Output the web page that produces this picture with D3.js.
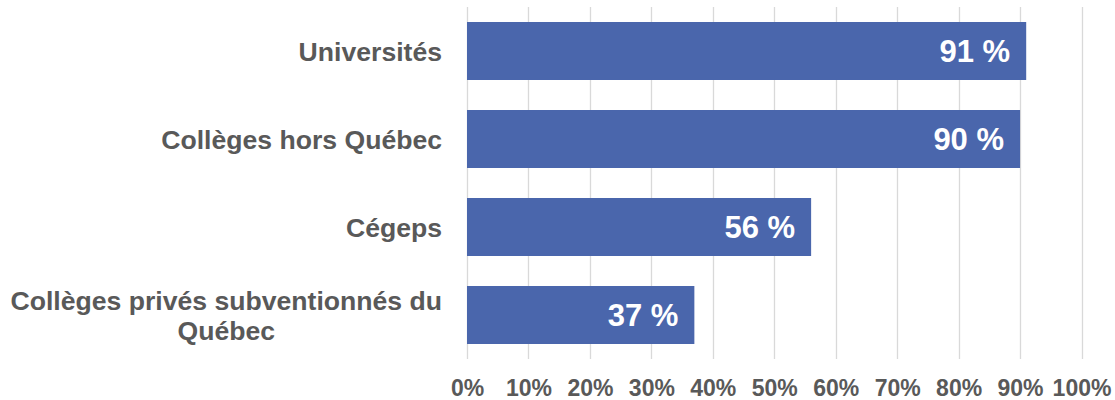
<!DOCTYPE html>
<html>
<head>
<meta charset="utf-8">
<script src="https://cdn.jsdelivr.net/npm/d3@7"></script>
<style>
  html, body { margin: 0; padding: 0; background: #fff; }
  svg { display: block; }
  text { font-family: Arial, "Liberation Sans", sans-serif; font-weight: bold; }
</style>
</head>
<body>
<svg id="chart" width="1115" height="400"></svg>
<script>
const categories = ["Universités", "Collèges hors Québec", "Cégeps", "Collèges privés subventionnés du Québec"];
const values = [0.91, 0.90, 0.56, 0.37];
const valueLabels = ["91 %", "90 %", "56 %", "37 %"];
const tickValues = [0, 0.1, 0.2, 0.3, 0.4, 0.5, 0.6, 0.7, 0.8, 0.9, 1.0];
const tickLabels = ["0%", "10%", "20%", "30%", "40%", "50%", "60%", "70%", "80%", "90%", "100%"];

const svg = d3.select("#chart");
const barColor = "#4A66AC";
const textColor = "#595959";
const gridColor = "#D9D9D9";

const x = d3.scaleLinear().domain([0, 1]).range([467, 1081.5]);
const y = d3.scaleBand().domain(categories).range([7, 359]).paddingInner(0.341).paddingOuter(0.1705);

// gridlines
svg.append("g").selectAll("line").data(tickValues).join("line")
  .attr("x1", d => Math.round(x(d)) + 0.5).attr("x2", d => Math.round(x(d)) + 0.5)
  .attr("y1", 7).attr("y2", 359)
  .attr("stroke", gridColor).attr("stroke-width", 1.3);

// x tick labels via axis
const xAxis = d3.axisBottom(x).tickValues(tickValues).tickFormat((d, i) => tickLabels[i]).tickSize(0).tickPadding(0);
const gx = svg.append("g").attr("transform", "translate(0,0)").call(xAxis);
gx.select(".domain").remove();
gx.selectAll("text")
  .attr("y", 396).attr("dy", null)
  .attr("fill", textColor).style("font-size", "23px")
  .style("font-family", "Arial, 'Liberation Sans', sans-serif").style("font-weight", "bold");

// bars
svg.append("g").selectAll("rect").data(categories).join("rect")
  .attr("x", x(0)).attr("y", d => y(d))
  .attr("width", (d, i) => x(values[i]) - x(0))
  .attr("height", y.bandwidth())
  .attr("fill", barColor);

// value labels
svg.append("g").selectAll("text").data(categories).join("text")
  .attr("x", (d, i) => x(values[i]) - 16)
  .attr("y", d => y(d) + y.bandwidth() / 2 + 11)
  .attr("text-anchor", "end")
  .attr("fill", "#fff").style("font-size", "31px")
  .text((d, i) => valueLabels[i]);

// category labels with wrapping
const labelRight = 442;
const maxW = 440;
const lineH = 30;
const catFont = "26.6px";
const gl = svg.append("g");
categories.forEach(cat => {
  const cy = y(cat) + y.bandwidth() / 2;
  const t = gl.append("text").attr("fill", textColor).style("font-size", catFont);
  const words = cat.split(" ");
  const lines = [];
  let cur = [];
  const probe = gl.append("text").style("font-size", catFont);
  words.forEach(w => {
    const test = cur.concat([w]).join(" ");
    probe.text(test);
    if (probe.node().getComputedTextLength() > maxW && cur.length) {
      lines.push(cur.join(" "));
      cur = [w];
    } else cur.push(w);
  });
  lines.push(cur.join(" "));
  let widest = 0;
  lines.forEach(l => { probe.text(l); widest = Math.max(widest, probe.node().getComputedTextLength()); });
  probe.remove();
  const n = lines.length;
  if (n === 1) {
    t.attr("x", labelRight).attr("y", cy + 10).attr("text-anchor", "end").text(lines[0]);
  } else {
    const cx = labelRight - widest / 2;
    t.attr("text-anchor", "middle");
    lines.forEach((l, i) => {
      t.append("tspan").attr("x", cx).attr("y", cy + 10 + (i - (n - 1) / 2) * lineH).text(l);
    });
  }
});
</script>
</body>
</html>
